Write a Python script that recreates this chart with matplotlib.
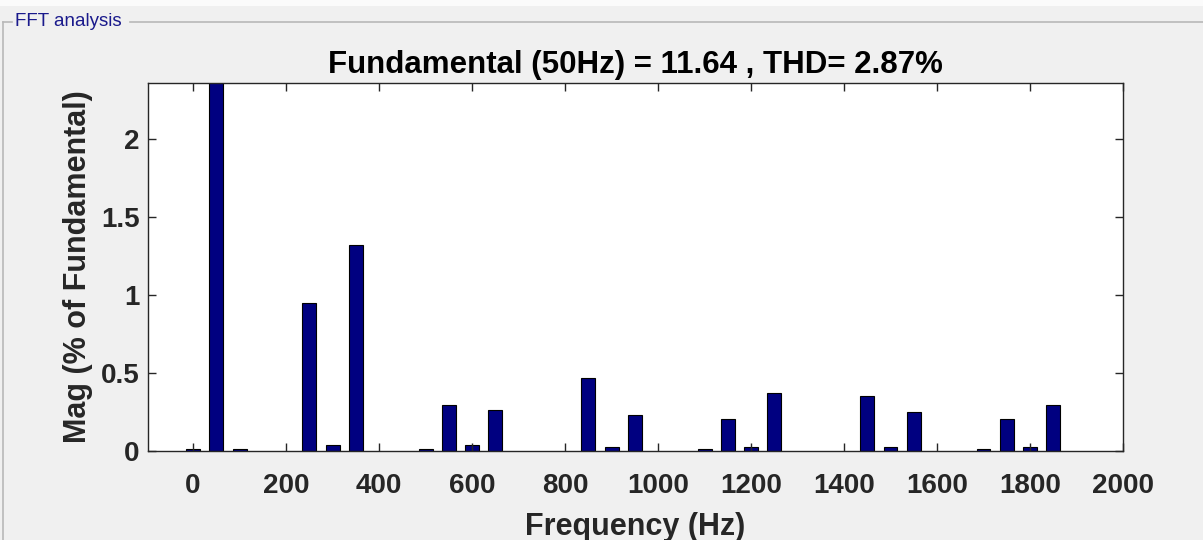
import matplotlib
matplotlib.use("Agg")
import matplotlib.pyplot as plt
from matplotlib.lines import Line2D
from matplotlib.patches import Rectangle

# Harmonic spectrum data (% of fundamental)
freqs_hz = [0, 50, 100, 250, 300, 350, 500, 550, 600, 650,
            850, 900, 950, 1100, 1150, 1200, 1250,
            1450, 1500, 1550, 1700, 1750, 1800, 1850]
mags_pct = [0.015, 100.0, 0.015, 0.95, 0.037, 1.32, 0.015, 0.297, 0.037, 0.263,
            0.47, 0.026, 0.229, 0.015, 0.208, 0.026, 0.374,
            0.353, 0.026, 0.25, 0.015, 0.208, 0.026, 0.297]
xticks = [0, 200, 400, 600, 800, 1000, 1200, 1400, 1600, 1800, 2000]
yticks = [0, 0.5, 1, 1.5, 2]
title_text = "Fundamental (50Hz) = 11.64 , THD= 2.87%"
panel_label = "FFT analysis"

plt.rcParams['font.family'] = ['Liberation Sans', 'DejaVu Sans']
W, H = 1203, 540
fig = plt.figure(figsize=(W / 100, H / 100), dpi=100, facecolor='#f0f0f0')

# thin white strip at very top
fig.add_artist(Rectangle((0, 1 - 6 / H), 1, 6 / H, transform=fig.transFigure,
                         facecolor='#fbfbfb', edgecolor='none'))
# group box frame
fig.add_artist(Line2D([3 / W, 3 / W], [1 - 22 / H, 0], color='#b8b8b8', lw=1.2))
fig.add_artist(Line2D([3 / W, 12 / W], [1 - 22 / H, 1 - 22 / H], color='#b8b8b8', lw=1.2))
fig.add_artist(Line2D([130 / W, 1], [1 - 22 / H, 1 - 22 / H], color='#b8b8b8', lw=1.2))
fig.text(15 / W, 1 - 22 / H, panel_label, color='#1a1a8c', fontsize=13.5,
         ha='left', va='center')

left, right, top, bottom = 148, 1123, 83, 451
ax = fig.add_axes([left / W, 1 - bottom / H, (right - left) / W, (bottom - top) / H])
ax.set_facecolor('white')
ax.bar(freqs_hz, mags_pct, width=30, color='#000080', edgecolor='black', linewidth=0.8)
ax.set_xlim(-97, 2000)
ax.set_ylim(0, 2.36)
ax.set_xticks(xticks)
ax.set_yticks(yticks)
ax.set_xticklabels([str(t) for t in xticks])
ax.set_yticklabels(['0', '0.5', '1', '1.5', '2'])
ax.tick_params(direction='in', length=6, width=1, top=True, right=True,
               labelsize=20, colors='#262626', pad=6)
ax.tick_params(axis='x', pad=16)
for lab in ax.get_xticklabels() + ax.get_yticklabels():
    lab.set_fontweight('bold')
for sp in ax.spines.values():
    sp.set_color('#262626')
    sp.set_linewidth(1)
ax.set_title(title_text, fontsize=22.5, fontweight='bold', color='black', pad=7)
ax.set_xlabel('Frequency (Hz)', fontsize=22, fontweight='bold', color='#262626', labelpad=9)
ax.set_ylabel('Mag (% of Fundamental)', fontsize=22, fontweight='bold', color='#262626', labelpad=6)

fig.savefig('out.png', dpi=100, facecolor=fig.get_facecolor())
